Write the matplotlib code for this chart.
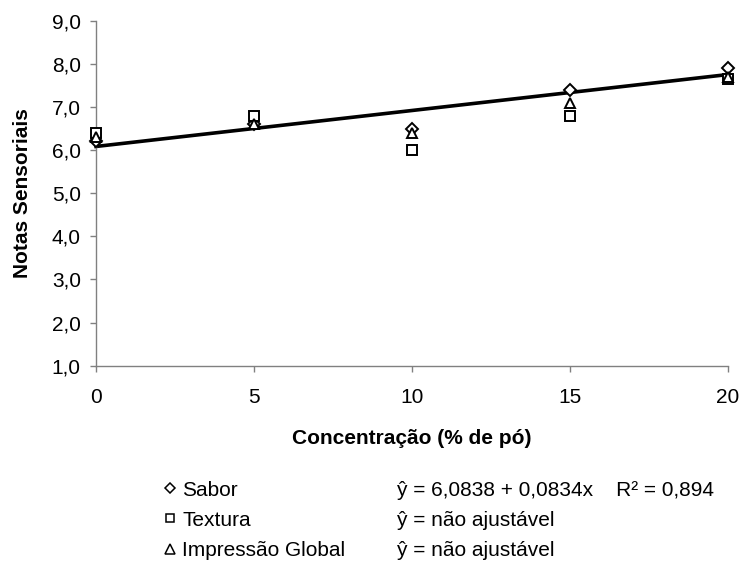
import matplotlib
matplotlib.use("Agg")
import matplotlib.pyplot as plt
import numpy as np
from matplotlib.lines import Line2D

plt.rcParams['font.family'] = ['Liberation Sans', 'DejaVu Sans']

# Concentração de pó (%) e notas sensoriais médias
conc = [0, 5, 10, 15, 20]
sabor = [6.2, 6.6, 6.5, 7.4, 7.9]
textura = [6.4, 6.8, 6.0, 6.8, 7.65]
impressao = [6.3, 6.6, 6.4, 7.1, 7.7]

# Regressão ajustada para sabor
b0, b1, r2 = 6.0838, 0.0834, 0.894

yticks = [1, 2, 3, 4, 5, 6, 7, 8, 9]
xticks = [0, 5, 10, 15, 20]
axis_grey = '#808080'
fs = 15

fig = plt.figure(figsize=(7.41, 5.64), dpi=100)
ax = fig.add_axes([0.1296, 0.3516, 0.9824 - 0.1296, 0.9633 - 0.3516])

xfit = np.array([0, 20])
ax.plot(xfit, b0 + b1 * xfit, color='black', lw=2.6, zorder=2, clip_on=False)

mk = dict(ls='none', mfc='white', mec='black', mew=1.4, ms=7.5, zorder=3, clip_on=False)
ax.plot(conc, sabor, marker='D', **{**mk, 'ms': 6.5})
ax.plot(conc, textura, marker='s', **mk)
ax.plot(conc, impressao, marker='^', **mk)

ax.set_xlim(0, 20)
ax.set_ylim(1, 9)
ax.set_xticks(xticks)
ax.set_yticks(yticks)
ax.set_yticklabels(['{:.1f}'.format(v).replace('.', ',') for v in yticks])
ax.tick_params(direction='out', length=4, width=1, color=axis_grey, labelsize=fs)
ax.tick_params(axis='y', pad=7)
ax.tick_params(axis='x', pad=12)
for side in ['top', 'right']:
    ax.spines[side].set_visible(False)
for side in ['left', 'bottom']:
    ax.spines[side].set_color(axis_grey)
    ax.spines[side].set_linewidth(1)

ax.set_ylabel('Notas Sensoriais', fontsize=fs, fontweight='bold')
ax.yaxis.set_label_coords(-0.101, 0.5)
ax.set_xlabel('Concentração (% de pó)', fontsize=fs, fontweight='bold', labelpad=16)

handles = [
    Line2D([], [], marker='D', ls='none', mfc='white', mec='black', mew=1.1, ms=5.5),
    Line2D([], [], marker='s', ls='none', mfc='white', mec='black', mew=1.1, ms=6),
    Line2D([], [], marker='^', ls='none', mfc='white', mec='black', mew=1.1, ms=6.5),
]
leg = fig.legend(handles, ['Sabor', 'Textura', 'Impressão Global'],
                 loc='upper left', bbox_to_anchor=(0.2224, 0.148), frameon=False,
                 fontsize=fs, handlelength=0.5, handletextpad=0.33,
                 labelspacing=0.54, borderpad=0, borderaxespad=0)

eqs = ['ŷ = {} + {}x    R² = {}'.format(str(b0).replace('.', ','),
                                        str(b1).replace('.', ','),
                                        str(r2).replace('.', ',')),
       'ŷ = não ajustável',
       'ŷ = não ajustável']
for i, t in enumerate(eqs):
    fig.text(0.536, 1 - (490 + 30 * i) / 564, t, fontsize=fs, va='center')

fig.savefig('out.png', dpi=100)
